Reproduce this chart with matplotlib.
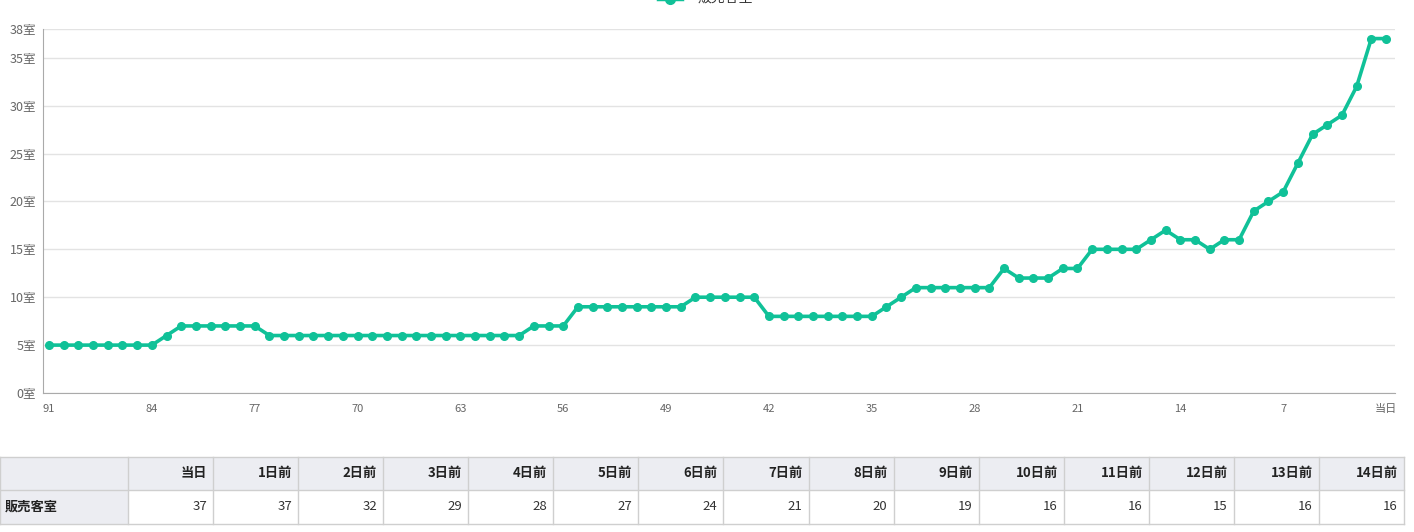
import matplotlib
matplotlib.use("Agg")
import matplotlib.pyplot as plt
from matplotlib.patches import Rectangle

plt.rcParams['font.family'] = ['Noto Sans CJK JP', 'DejaVu Sans']

# days before the stay date (91 -> 0) and rooms sold
days = list(range(91, -1, -1))
rooms = [5, 5, 5, 5, 5, 5, 5, 5,          # 91-84
         6,                                # 83
         7, 7, 7, 7, 7, 7,                 # 82-77
         6, 6, 6, 6, 6, 6, 6, 6, 6, 6, 6, 6, 6, 6, 6, 6, 6, 6,  # 76-59
         7, 7, 7,                          # 58-56
         9, 9, 9, 9, 9, 9, 9, 9,           # 55-48
         10, 10, 10, 10, 10,               # 47-43
         8, 8, 8, 8, 8, 8, 8, 8,           # 42-35
         9, 10,                            # 34-33
         11, 11, 11, 11, 11, 11,           # 32-27
         13, 12, 12, 12, 13, 13,           # 26-21
         15, 15, 15, 15, 16, 17, 16, 16, 15, 16, 16,  # 20-10
         19, 20, 21, 24, 27, 28, 29, 32, 37, 37]      # 9-0

xtick_vals = [91, 84, 77, 70, 63, 56, 49, 42, 35, 28, 21, 14, 7, 0]
xtick_labels = ['91', '84', '77', '70', '63', '56', '49', '42', '35', '28', '21', '14', '7', '当日']
ytick_vals = [0, 5, 10, 15, 20, 25, 30, 35, 38]

table_header = ['当日', '1日前', '2日前', '3日前', '4日前', '5日前', '6日前', '7日前',
                '8日前', '9日前', '10日前', '11日前', '12日前', '13日前', '14日前']
table_row_label = '販売客室'
table_values = [37, 37, 32, 29, 28, 27, 24, 21, 20, 19, 16, 16, 15, 16, 16]

line_color = '#10c198'
W, H = 1414, 532

fig = plt.figure(figsize=(W / 100, H / 100), dpi=100)
ax = fig.add_axes([43 / W, 1 - 393 / H, (1395 - 43) / W, (393 - 29) / H])

ax.plot(days, rooms, color=line_color, lw=2.6, marker='o', ms=5.5,
        markeredgecolor=line_color, zorder=3)

ax.set_xlim(91.41, -0.61)
ax.set_ylim(0, 38)
ax.set_yticks(ytick_vals)
ax.set_yticklabels([f'{v}室' for v in ytick_vals])
ax.set_xticks(xtick_vals)
ax.set_xticklabels(xtick_labels)
ax.tick_params(axis='y', length=0, pad=5, labelsize=9, labelcolor='#666666')
ax.tick_params(axis='x', length=0, pad=8, labelsize=8, labelcolor='#666666')
ax.grid(axis='y', color='#e3e3e3', lw=1)
ax.set_axisbelow(True)
for s in ['top', 'right']:
    ax.spines[s].set_visible(False)
ax.spines['left'].set_color('#aaaaaa')
ax.spines['bottom'].set_color('#aaaaaa')

# legend (partly cut off at the top, as in the source page)
fig.lines.append(plt.Line2D([658 / W, 670 / W, 682 / W], [1 + 1 / H] * 3, transform=fig.transFigure,
                            color=line_color, lw=2.5, marker='o', ms=7, markevery=[1]))
fig.text(698 / W, 1 + 2 / H, table_row_label, fontsize=10, color='#333333', va='center')

# table
tax = fig.add_axes([0, 0, 1, 1])
tax.set_xlim(0, W)
tax.set_ylim(H, 0)
tax.axis('off')

first_w = 128
col_w = (1404 - first_w) / len(table_header)
top, mid, bot = 457, 490, 524
border = '#cfcfcf'
head_bg = '#ecedf2'

tax.add_patch(Rectangle((0, top), 1404, mid - top, facecolor=head_bg, edgecolor='none'))
tax.add_patch(Rectangle((0, mid), first_w, bot - mid, facecolor=head_bg, edgecolor='none'))
for y in [top, mid, bot]:
    tax.plot([0, 1404], [y, y], color=border, lw=1)
xs = [first_w + i * col_w for i in range(len(table_header) + 1)]
for x in [0] + xs:
    tax.plot([x, x], [top, bot], color=border, lw=1)

tax.text(5, (mid + bot) / 2, table_row_label, fontsize=9.5, fontweight='bold',
         color='#222222', ha='left', va='center')
for i, (h, v) in enumerate(zip(table_header, table_values)):
    xr = xs[i + 1] - 6
    tax.text(xr, (top + mid) / 2, h, fontsize=9.5, fontweight='bold', color='#222222',
             ha='right', va='center')
    tax.text(xr, (mid + bot) / 2, str(v), fontsize=9.5, color='#333333',
             ha='right', va='center')

fig.savefig('out.png', dpi=100)
